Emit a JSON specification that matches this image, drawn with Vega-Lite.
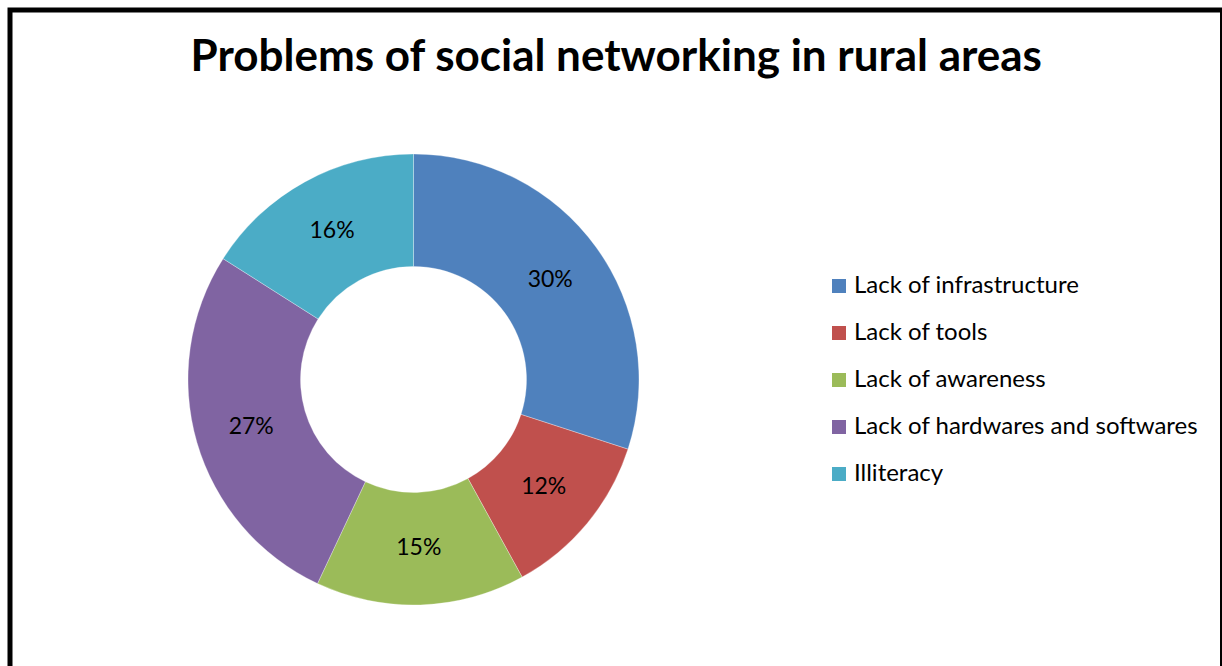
{
  "$schema": "https://vega.github.io/schema/vega-lite/v6.json",
  "autosize": "none",
  "padding": {"left": 10, "top": 10, "right": 0, "bottom": 0},
  "width": 1212.5,
  "height": 670,
  "background": "white",
  "view": {"stroke": "black", "strokeWidth": 5, "fill": "white"},
  "config": {"view": {"stroke": "black", "strokeWidth": 5}},
  "title": {
    "text": "Problems of social networking in rural areas",
    "font": "Lato",
    "fontWeight": "bold",
    "fontSize": 44,
    "color": "black",
    "anchor": "middle",
    "frame": "group",
    "orient": "top",
    "offset": -62,
    "dy": 43,
    "baseline": "alphabetic"
  },
  "data": {
    "values": [
      {"category": "Lack of infrastructure", "share": 0.30, "order": 1},
      {"category": "Lack of tools", "share": 0.12, "order": 2},
      {"category": "Lack of awareness", "share": 0.15, "order": 3},
      {"category": "Lack of hardwares and softwares", "share": 0.27, "order": 4},
      {"category": "Illiteracy", "share": 0.16, "order": 5}
    ]
  },
  "encoding": {
    "theta": {"field": "share", "type": "quantitative", "stack": true},
    "order": {"field": "order", "type": "quantitative"}
  },
  "layer": [
    {
      "mark": {"type": "arc", "x": 403.5, "y": 369.5, "outerRadius": 225.5, "innerRadius": 113, "stroke": "white", "strokeWidth": 0.3},
      "encoding": {
        "color": {
          "field": "category",
          "type": "nominal",
          "sort": ["Lack of infrastructure", "Lack of tools", "Lack of awareness", "Lack of hardwares and softwares", "Illiteracy"],
          "scale": {
            "domain": ["Lack of infrastructure", "Lack of tools", "Lack of awareness", "Lack of hardwares and softwares", "Illiteracy"],
            "range": ["#4F81BD", "#C0504D", "#9BBB59", "#8064A2", "#4BACC6"]
          },
          "legend": {
            "orient": "none",
            "legendX": 817,
            "legendY": 264,
            "title": null,
            "symbolType": "square",
            "symbolSize": 196,
            "symbolStrokeWidth": 0,
            "labelFont": "Lato",
            "labelFontSize": 24,
            "labelColor": "black",
            "labelOffset": 3,
            "labelLimit": 400,
            "rowPadding": 23
          }
        }
      }
    },
    {
      "mark": {"type": "text", "x": 403.5, "y": 369.5, "radius": 169, "font": "Lato", "fontSize": 23, "color": "black"},
      "encoding": {
        "text": {"field": "share", "type": "quantitative", "format": ".0%"}
      }
    }
  ]
}
